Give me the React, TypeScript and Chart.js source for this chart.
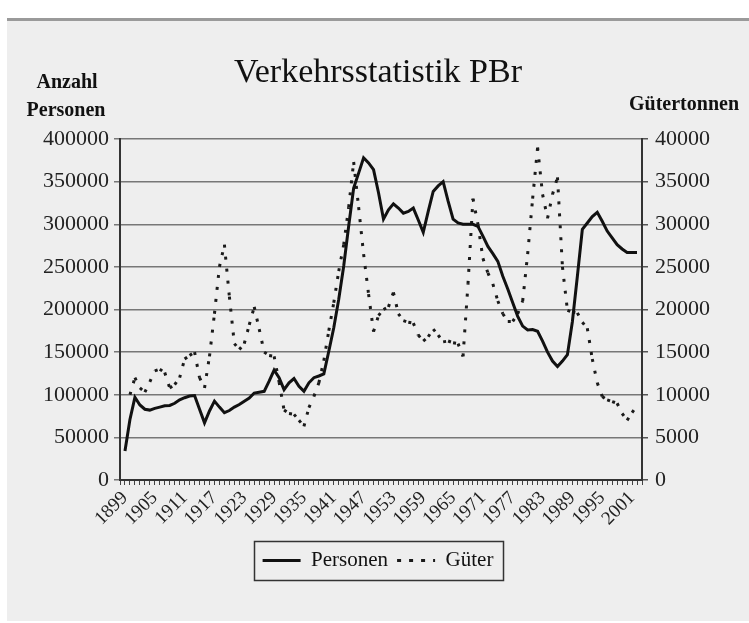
import React, { useEffect, useRef } from "react";
import { Chart, registerables } from "chart.js";

Chart.register(...registerables);

// Axis runs one empty category beyond the data on each side (1898 … 2003)
const AXIS_FIRST_YEAR = 1898;
const AXIS_LAST_YEAR = 2003;
const DATA_FIRST_YEAR = 1899;
const LABEL_STEP = 6;
const LAST_LABEL_YEAR = 2001;

const years: string[] = [];
for (let y = AXIS_FIRST_YEAR; y <= AXIS_LAST_YEAR; y++) years.push(String(y));

// Anzahl Personen, 1899 … 2002
const personen: (number | null)[] = [
  34000, 71000, 97000, 88000, 83000, 82000, 84000, 85500, 87000, 87500,
  90000, 94000, 96500, 98500, 99000, 83000, 67000, 81000, 92500, 85500,
  79000, 81500, 85500, 88500, 92500, 96000, 102000, 103000, 104000, 116000,
  129000, 120000, 106000, 114000, 119000, 110000, 104000, 114000, 120000, 122000,
  124500, 151000, 178500, 212000, 251000, 298000, 342500, 360000, 378000, 372000,
  364000, 337000, 306000, 317000, 324000, 319000, 313000, 315000, 319000, 305000,
  290500, 315000, 338500, 345000, 350000, 327000, 306000, 301500, 300000, 300000,
  300000, 297500, 286000, 274000, 265500, 256500, 239000, 224000, 208000, 192000,
  180500, 176000, 176500, 174500, 163000, 150000, 139500, 133000, 139500, 147000,
  186000, 239000, 294000, 301500, 309000, 314000, 303500, 292000, 284000, 276000,
  271000, 267000, 267000, 267000,
];

// Gütertonnen, 1899 … 2002
const gueter: (number | null)[] = [
  null, 10000, 12000, 10800, 10300, 11500, 12800, 13000, 12600, 10800,
  11200, 12000, 14200, 14600, 15000, 12000, 10800, 14500, 19500, 25000,
  27600, 21500, 16000, 15300, 16000, 18200, 20300, 17700, 15000, 14600,
  14500, 11500, 8200, 7800, 7700, 7000, 6300, 8500, 9800, 11400,
  14000, 17500, 20800, 24500, 27600, 32000, 37300, 32000, 26500, 21800,
  17400, 19300, 20000, 20300, 22000, 19500, 18700, 18500, 18400, 17000,
  16300, 16800, 17700, 17000, 16200, 16300, 16100, 16000, 14500, 23000,
  33000, 30000, 26000, 24300, 23000, 21000, 19500, 18600, 18600, 19500,
  21000, 26500, 33000, 39000, 33500, 30700, 33500, 35500, 25000, 19900,
  19700, 19600, 18500, 17800, 14200, 11400, 9800, 9400, 9200, 9000,
  7800, 7000, 7900, 8700,
];

const TITLE = "Verkehrsstatistik PBr";
const LEFT_TITLE = ["Anzahl", "Personen"];
const RIGHT_TITLE = "Gütertonnen";
const SERIES_NAMES = ["Personen", "Güter"];

const FONT = "Liberation Serif";

const axisTitlePlugin = {
  id: "axisTitles",
  afterDraw(chart: any) {
    const { ctx, chartArea } = chart;
    ctx.save();
    ctx.font = `bold 20px "${FONT}"`;
    ctx.fillStyle = "#111";
    ctx.textAlign = "center";
    ctx.textBaseline = "middle";
    ctx.fillText(LEFT_TITLE[0], chartArea.left - 53, chartArea.top - 56);
    ctx.fillText(LEFT_TITLE[1], chartArea.left - 54, chartArea.top - 28);
    ctx.fillText(RIGHT_TITLE, chartArea.right + 42, chartArea.top - 34);
    ctx.restore();
  },
};

const legendBorderPlugin = {
  id: "legendBorder",
  afterDraw(chart: any) {
    const lg = chart.legend;
    if (!lg || !lg.legendHitBoxes || !lg.legendHitBoxes.length) return;
    const hb = lg.legendHitBoxes;
    let l = Infinity, r = -Infinity, t = Infinity, b = -Infinity;
    for (const h of hb) {
      l = Math.min(l, h.left);
      r = Math.max(r, h.left + h.width);
      t = Math.min(t, h.top);
      b = Math.max(b, h.top + h.height);
    }
    const ctx = chart.ctx;
    ctx.save();
    ctx.strokeStyle = "#333";
    ctx.lineWidth = 1.5;
    ctx.strokeRect(Math.round(l - 9) + 0.5, Math.round(t - 9) + 0.5, Math.round(r - l + 18), Math.round(b - t + 18));
    ctx.restore();
  },
};

export default function App() {
  const ref = useRef<HTMLCanvasElement>(null);

  useEffect(() => {
    const canvas = ref.current;
    if (!canvas) return;
    const tickFont = { family: FONT, size: 22 };
    const chart = new Chart(canvas, {
      type: "line",
      data: {
        labels: years,
        datasets: [
          {
            label: SERIES_NAMES[0],
            data: [null, ...personen, null],
            borderColor: "#111",
            backgroundColor: "#111",
            borderWidth: 3,
            pointRadius: 0,
            tension: 0,
            yAxisID: "y",
          },
          {
            label: SERIES_NAMES[1],
            data: [null, ...gueter, null],
            borderColor: "#1a1a1a",
            backgroundColor: "#1a1a1a",
            borderWidth: 3,
            borderDash: [3, 9],
            pointRadius: 0,
            tension: 0,
            yAxisID: "y1",
            segment: {
              borderDashOffset: (c: any) => (c.p0DataIndex % 2 === 0 ? 0 : 0.001),
            },
          } as any,
        ],
      },
      options: {
        responsive: false,
        animation: false,
        devicePixelRatio: 1,
        layout: { padding: { top: 0, left: 0, right: 0, bottom: 37 } },
        plugins: {
          title: {
            display: true,
            text: TITLE,
            color: "#111",
            font: { family: FONT, size: 34, weight: "normal" },
            padding: { top: 32, bottom: 45.2 },
          },
          legend: {
            display: true,
            position: "bottom",
            labels: {
              color: "#111",
              font: { family: FONT, size: 21 },
              boxWidth: 38,
              boxHeight: 0,
              padding: 9,
            },
          },
          tooltip: { enabled: false },
        },
        scales: {
          x: {
            type: "category",
            offset: false,
            grid: {
              display: true,
              drawOnChartArea: false,
              drawTicks: true,
              tickLength: 5,
              color: "#444",
              lineWidth: 1,
            },
            border: { display: true, color: "#333", width: 2 },
            ticks: {
              autoSkip: false,
              minRotation: 45,
              maxRotation: 45,
              padding: 2,
              color: "#222",
              font: { family: FONT, size: 19 },
              callback: function (this: any, val: any) {
                const y = Number(this.getLabelForValue(val));
                return y >= DATA_FIRST_YEAR && y <= LAST_LABEL_YEAR && (y - DATA_FIRST_YEAR) % LABEL_STEP === 0
                  ? String(y)
                  : "";
              },
            },
            afterFit: (s: any) => {
              s.height = 61;
            },
          },
          y: {
            position: "left",
            min: 0,
            max: 400000,
            ticks: {
              stepSize: 50000,
              padding: 5,
              color: "#222",
              font: tickFont,
              callback: (v: any) => String(v),
            },
            grid: { color: "#777", lineWidth: 1.5, tickLength: 6, drawTicks: true },
            border: { display: true, color: "#333", width: 2 },
            afterFit: (s: any) => {
              s.width = 113;
            },
          },
          y1: {
            position: "right",
            min: 0,
            max: 40000,
            ticks: {
              stepSize: 5000,
              padding: 7,
              color: "#222",
              font: tickFont,
              callback: (v: any) => String(v),
            },
            grid: { drawOnChartArea: false, color: "#555", lineWidth: 1.5, tickLength: 6, drawTicks: true },
            border: { display: true, color: "#333", width: 2 },
            afterFit: (s: any) => {
              s.width = 107;
            },
          },
        },
      } as any,
      plugins: [axisTitlePlugin, legendBorderPlugin],
    });
    return () => chart.destroy();
  }, []);

  return (
    <div
      style={{
        position: "absolute",
        left: 7,
        top: 18,
        width: 742,
        height: 600,
        background: "#eeeeee",
        borderTop: "3px solid #9a9a9a",
      }}
    >
      <canvas ref={ref} width={742} height={597} style={{ display: "block", width: 742, height: 597 }} />
    </div>
  );
}
